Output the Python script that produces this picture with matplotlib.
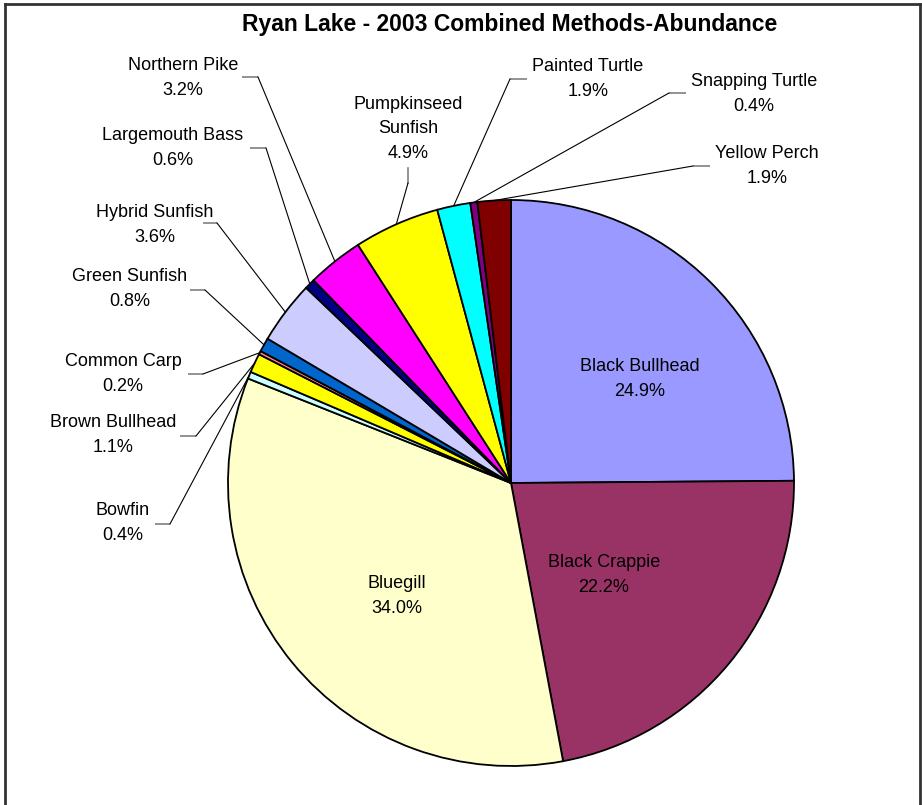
import numpy as np
import matplotlib
matplotlib.use("Agg")
import matplotlib.pyplot as plt
from matplotlib.lines import Line2D

plt.rcParams['font.family'] = ['Liberation Sans', 'DejaVu Sans']

# Species and share of the catch (percent), clockwise from 12 o'clock
species = ['Black Bullhead', 'Black Crappie', 'Bluegill', 'Bowfin', 'Brown Bullhead',
           'Common Carp', 'Green Sunfish', 'Hybrid Sunfish', 'Largemouth Bass',
           'Northern Pike', 'Pumpkinseed\nSunfish', 'Painted Turtle',
           'Snapping Turtle', 'Yellow Perch']
percent = [24.9, 22.2, 34.0, 0.4, 1.1, 0.2, 0.8, 3.6, 0.6, 3.2, 4.9, 1.9, 0.4, 1.9]
colors = ['#9999FF', '#993366', '#FFFFCC', '#CCFFFF', '#FFFF00', '#FF8080', '#0066CC',
          '#CCCCFF', '#000080', '#FF00FF', '#FFFF00', '#00FFFF', '#800080', '#800000']

W, H = 922, 805
CX, CY, R = 511, 483, 283

fig = plt.figure(figsize=(W / 100, H / 100), dpi=100)
ax = fig.add_axes([0, 0, 1, 1])


# pixel position -> data position (pie radius = 1)
def px(x, y):
    return (x - CX) / R, (CY - y) / R


wedges, _ = ax.pie(percent, colors=colors, startangle=90, counterclock=False,
                   radius=1, wedgeprops=dict(edgecolor='black', linewidth=1.3))
ax.set_xlim(-CX / R, (W - CX) / R)
ax.set_ylim(-(H - CY) / R, CY / R)
ax.set_aspect('equal')
ax.axis('off')

fs = 13
ls = 1.55
# labels inside the big slices (pixel coords of text centre)
inside = {0: (640, 379), 1: (604, 575), 2: (397, 596)}
for i, (x, y) in inside.items():
    ax.text(*px(x, y), f"{species[i]}\n{percent[i]:.1f}%", ha='center', va='center',
            fontsize=fs, linespacing=ls)

# outside labels: text centre, elbow start x, elbow end x, elbow y
outside = {
    3: (123, 523, 155, 170, 524),
    4: (113, 435, 180, 196, 436),
    5: (123, 374, 188, 203, 374),
    6: (130, 289, 190, 205, 290),
    7: (155, 225, 203, 217, 223),
    8: (173, 148, 250, 266, 148),
    9: (183, 78, 242, 258, 77),
    11: (588, 79, 527, 510, 79),
    12: (754, 94, 686, 669, 93),
    13: (767, 166, 710, 693, 166),
}
for i, (tx, ty, ex0, ex1, ey) in outside.items():
    ax.text(*px(tx, ty), f"{species[i]}\n{percent[i]:.1f}%", ha='center', va='center',
            fontsize=fs, linespacing=ls)
    w = wedges[i]
    ang = np.deg2rad((w.theta1 + w.theta2) / 2)
    x0, y0 = px(ex0, ey)
    x1, y1 = px(ex1, ey)
    ax.plot([x0, x1], [y0, y1], color='#808080', lw=1.2, solid_capstyle='butt')
    ax.plot([x1, np.cos(ang)], [y1, np.sin(ang)], color='black', lw=0.8)

# Pumpkinseed: three-line label with a vertical elbow
w = wedges[10]
ang = np.deg2rad((w.theta1 + w.theta2) / 2)
ax.text(*px(408, 129), f"{species[10]}\n{percent[10]:.1f}%", ha='center', va='center',
        fontsize=fs, linespacing=ls)
xa, ya = px(408, 168)
xb, yb = px(408, 183)
ax.plot([xa, xb], [ya, yb], color='#808080', lw=1.2)
ax.plot([xb, np.cos(ang)], [yb, np.sin(ang)], color='black', lw=0.8)

fig.text(510 / W, 1 - 24 / H, 'Ryan Lake - 2003 Combined Methods-Abundance',
         ha='center', va='center', fontsize=16.5, fontweight='bold')

# chart frame (bottom edge runs off the picture)
frame = dict(color='#333333', lw=2, transform=fig.transFigure)
fig.add_artist(Line2D([5 / W, 5 / W], [0, 1 - 4 / H], **frame))
fig.add_artist(Line2D([5 / W, 920 / W], [1 - 4 / H, 1 - 4 / H], **frame))
fig.add_artist(Line2D([920 / W, 920 / W], [0, 1 - 4 / H], **frame))

fig.savefig('out.png', dpi=100)
